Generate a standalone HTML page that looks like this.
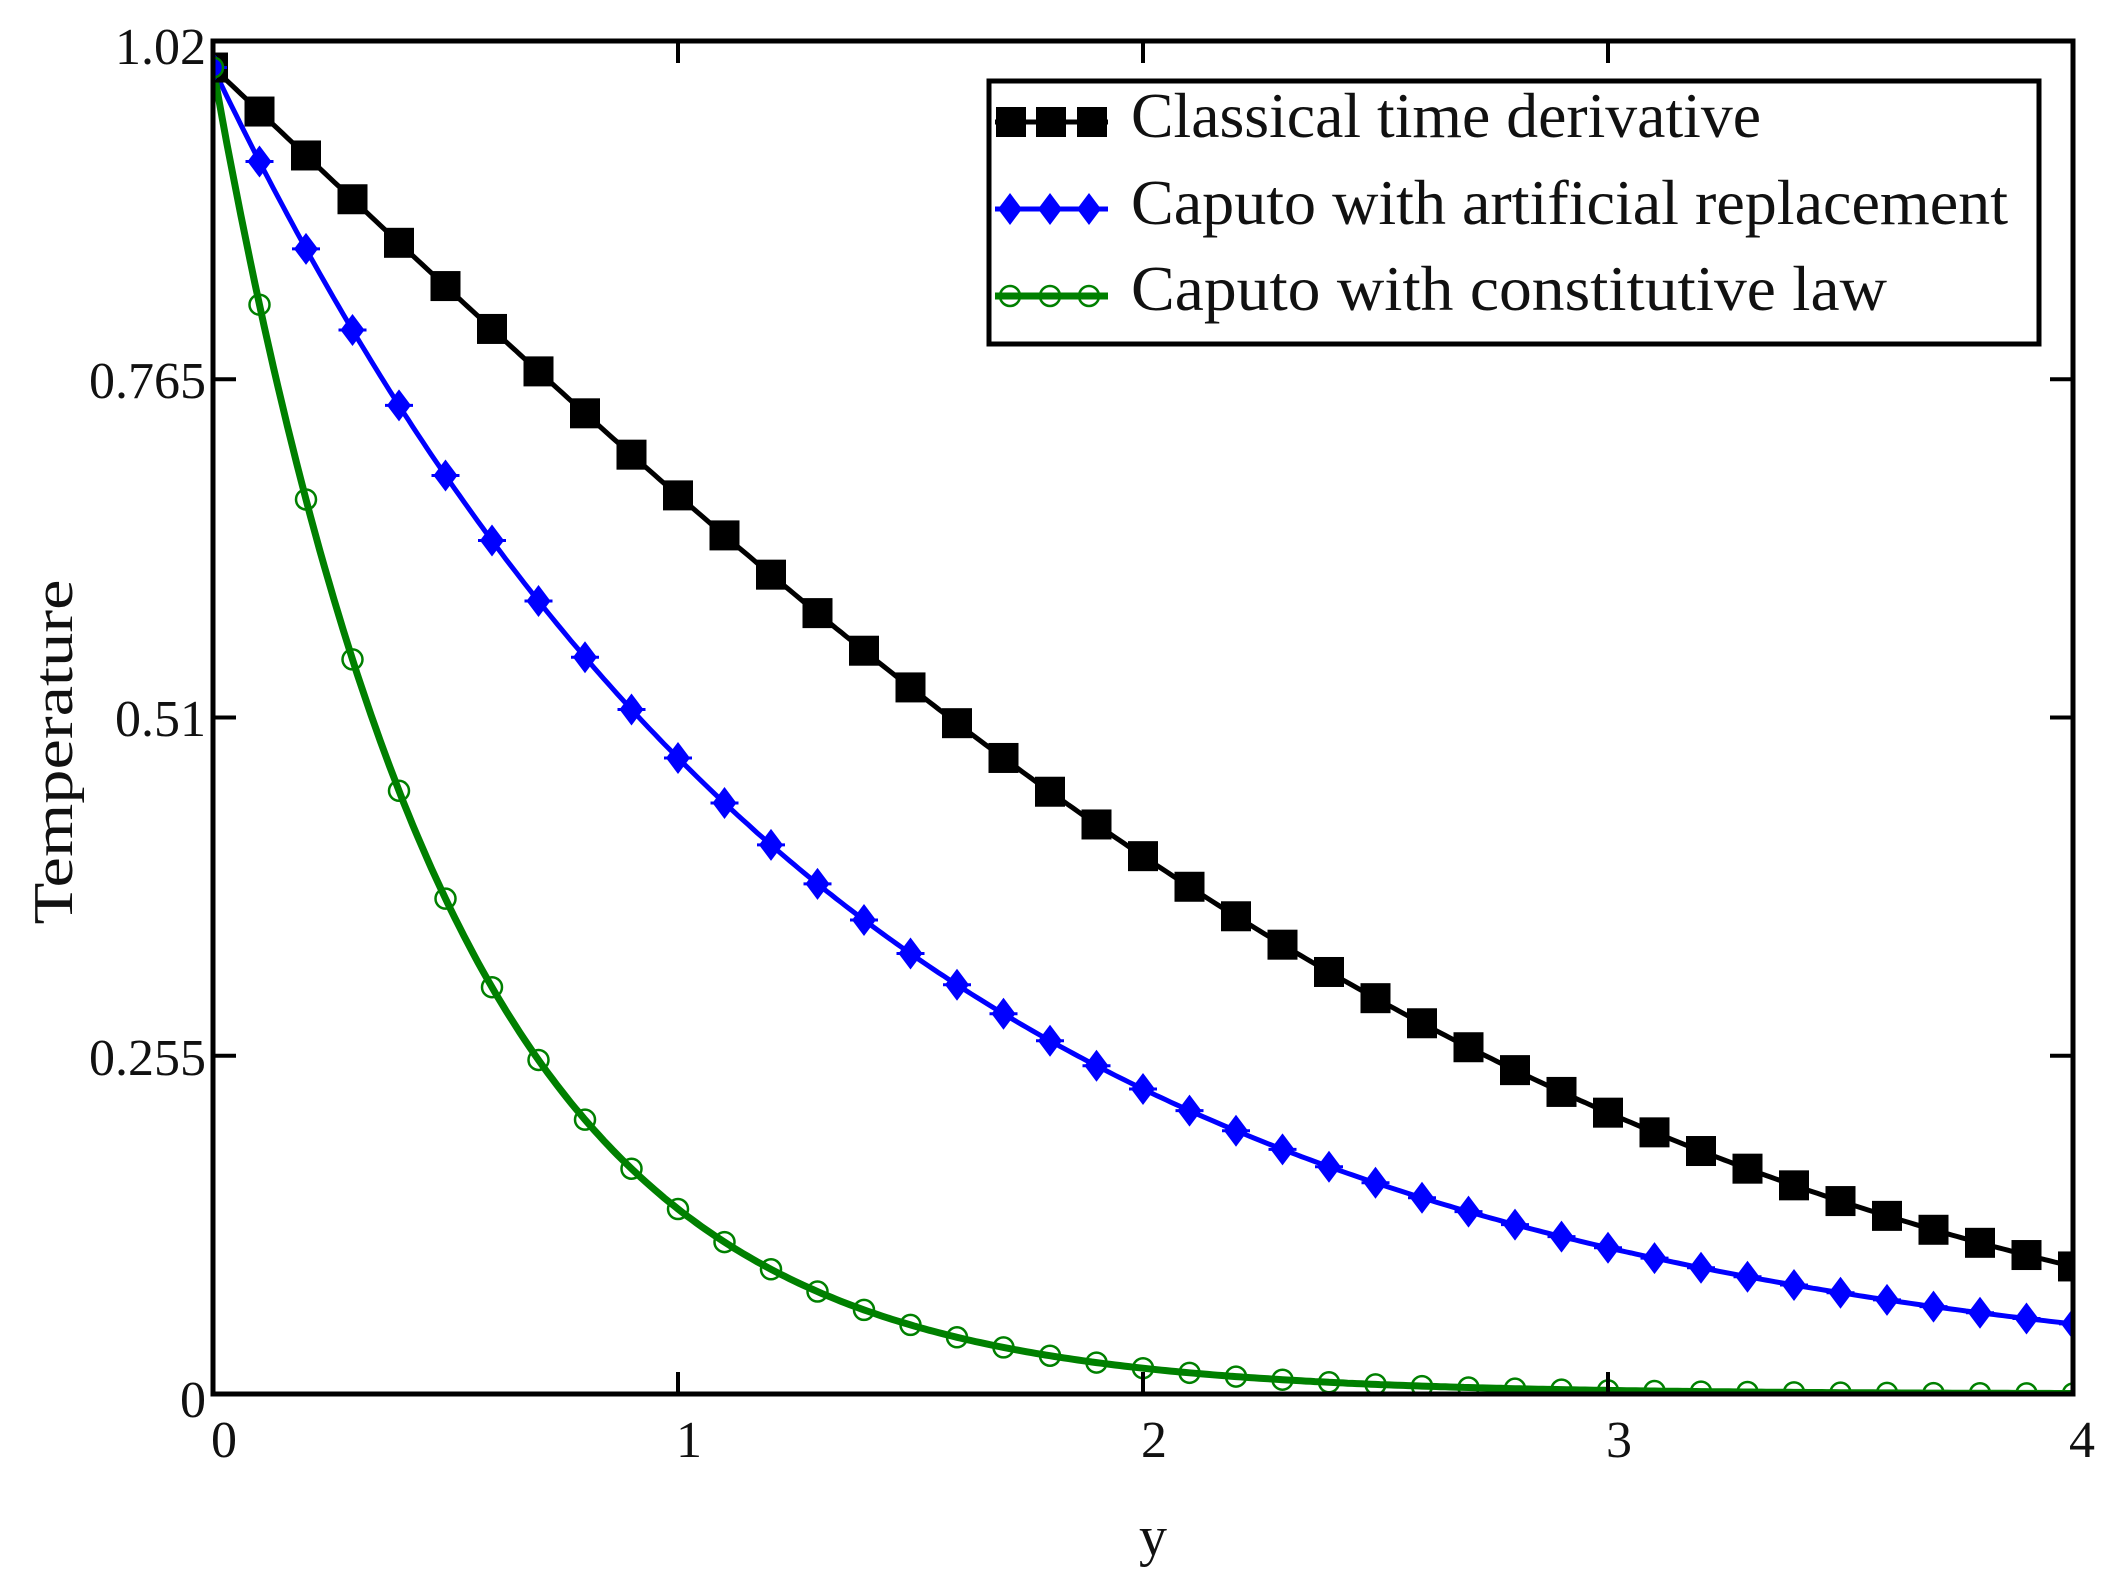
<!DOCTYPE html>
<html><head><meta charset="utf-8"><style>
html,body{margin:0;padding:0;background:#fff;}
svg{display:block;}
text{font-family:"Liberation Serif","DejaVu Serif",serif;fill:#111;}
</style></head><body>
<svg id="s" width="2122" height="1581" viewBox="0 0 2122 1581" xmlns="http://www.w3.org/2000/svg">
<defs><clipPath id="c"><rect x="213" y="41" width="1860" height="1353"/></clipPath></defs>
<rect width="2122" height="1581" fill="#fff"/>
<g id="curves" clip-path="url(#c)"></g>
<rect x="213" y="41" width="1860" height="1353" fill="none" stroke="#000" stroke-width="5"/>
<g id="ticks" stroke="#000" stroke-width="4"></g>
<g font-size="52">
<text x="206" y="64" text-anchor="end">1.02</text>
<text x="206" y="398" text-anchor="end">0.765</text>
<text x="206" y="736" text-anchor="end">0.51</text>
<text x="206" y="1075" text-anchor="end">0.255</text>
<text x="206" y="1417" text-anchor="end">0</text>
<text x="224" y="1457" text-anchor="middle">0</text>
<text x="689" y="1457" text-anchor="middle">1</text>
<text x="1154" y="1457" text-anchor="middle">2</text>
<text x="1619" y="1457" text-anchor="middle">3</text>
<text x="2082" y="1457" text-anchor="middle">4</text>
</g>
<text x="1153" y="1555" font-size="56" text-anchor="middle" fill="#2a1a10">y</text>
<text transform="translate(72,752) rotate(-90)" font-size="56" text-anchor="middle" textLength="345" lengthAdjust="spacingAndGlyphs">Temperature</text>
<rect x="989" y="81" width="1050" height="263" fill="#fff" stroke="#000" stroke-width="5"/>
<g font-size="64">
<text x="1131" y="137" textLength="630" lengthAdjust="spacingAndGlyphs">Classical time derivative</text>
<text x="1131" y="224" textLength="877" lengthAdjust="spacingAndGlyphs">Caputo with artificial replacement</text>
<text x="1131" y="310" textLength="756" lengthAdjust="spacingAndGlyphs">Caputo with constitutive law</text>
</g>
<g id="leg"></g>
</svg>
<script>
var NS="http://www.w3.org/2000/svg";
function X(x){return 213+x*465;}
function Y(v){return 1394-v*(1353/1.02);}
function erfc(x){var t=1/(1+0.3275911*x);var y=t*(0.254829592+t*(-0.284496736+t*(1.421413741+t*(-1.453152027+t*1.061405429))));return y*Math.exp(-x*x);}
var fs=[function(y){return erfc(y/3.4);},function(y){return Math.exp(-0.735*y);},function(y){return Math.exp(-1.97*y);}];
var cols=["#000","#0000ff","#008000"],w=[5,5,7];
var g=document.getElementById("curves"),h="";
for(var k=0;k<3;k++){var d="";for(var i=0;i<=400;i++){var x=i/100;d+=(i?"L":"M")+X(x).toFixed(1)+","+Y(fs[k](x)).toFixed(1);}
h+='<path d="'+d+'" fill="none" stroke="'+cols[k]+'" stroke-width="'+w[k]+'"/>';}
function sq(cx,cy){return '<rect x="'+(cx-15)+'" y="'+(cy-15)+'" width="30" height="30" fill="#000"/>';}
function di(cx,cy){return '<polygon points="'+cx+','+(cy-16)+' '+(cx+12)+','+cy+' '+cx+','+(cy+16)+' '+(cx-12)+','+cy+'" fill="#0000ff"/><line x1="'+(cx-14)+'" y1="'+cy+'" x2="'+(cx+14)+'" y2="'+cy+'" stroke="#0000ff" stroke-width="3"/>';}
function ci(cx,cy){return '<circle cx="'+cx+'" cy="'+cy+'" r="10" fill="none" stroke="#008000" stroke-width="2.5"/>';}
for(var i=0;i<=40;i++){var x=i/10;h+=sq(X(x),Y(fs[0](x)));h+=di(X(x),Y(fs[1](x)));h+=ci(X(x),Y(fs[2](x)));}
g.innerHTML=h;
var t="";
for(var i=1;i<4;i++){t+='<line x1="'+X(i)+'" y1="41" x2="'+X(i)+'" y2="63"/><line x1="'+X(i)+'" y1="1394" x2="'+X(i)+'" y2="1372"/>';}
for(var i=1;i<4;i++){var yy=Y(0.255*i);t+='<line x1="213" y1="'+yy+'" x2="236" y2="'+yy+'"/><line x1="2073" y1="'+yy+'" x2="2050" y2="'+yy+'"/>';}
document.getElementById("ticks").innerHTML=t;
var l="";
l+='<line x1="995" y1="122" x2="1108" y2="122" stroke="#000" stroke-width="5"/>'+sq(1011,122)+sq(1051,122)+sq(1092,122);
l+='<line x1="995" y1="209" x2="1108" y2="209" stroke="#0000ff" stroke-width="5"/>'+di(1010,209)+di(1050,209)+di(1089,209);
l+='<line x1="995" y1="296" x2="1108" y2="296" stroke="#008000" stroke-width="7"/>'+ci(1010,296)+ci(1050,296)+ci(1089,296);
document.getElementById("leg").innerHTML=l;
</script>
</body></html>
